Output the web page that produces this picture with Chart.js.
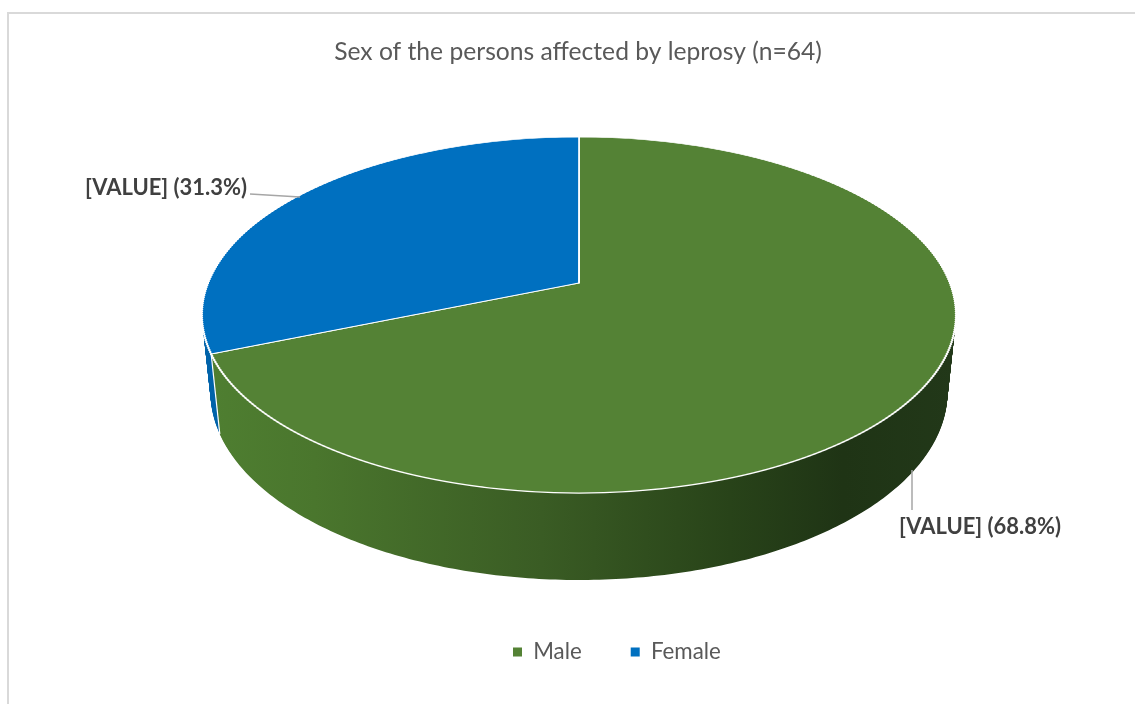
<!DOCTYPE html>
<html>
<head>
<meta charset="utf-8">
<script src="https://cdn.jsdelivr.net/npm/chart.js@4.4.1/dist/chart.umd.min.js"></script>
<style>
html,body{margin:0;padding:0;background:#fff;}
#wrap{position:relative;width:1135px;height:704px;overflow:hidden;background:#fff;}
#frame{position:absolute;left:7px;top:12px;width:1300px;height:900px;border-top:2px solid #d9d9d9;border-left:2px solid #d9d9d9;box-sizing:border-box;}
#c{position:absolute;left:0;top:0;}
</style>
</head>
<body>
<div id="wrap"><div id="frame"></div><canvas id="c" width="1135" height="704"></canvas></div>
<script>
// ---- data ----
const categories = ['Male', 'Female'];
const percentValues = [68.8, 31.3];
const sliceColors = ['#548235', '#0070C0'];
const titleText = 'Sex of the persons affected by leprosy (n=64)';
const labelPrefix = '[VALUE]';

// ---- styling / layout ----
const FAMILY = 'Lato, "Open Sans", "Liberation Sans", sans-serif';
function fitSize(text, weight, target) {
  const c = document.createElement('canvas').getContext('2d');
  c.font = weight + ' 100px ' + FAMILY;
  return 100 * target / c.measureText(text).width;
}
const titleSize = fitSize(titleText, 'normal', 488);
const legendSize = fitSize('Female', 'normal', 70);
const labelSize = fitSize(labelPrefix + ' (31.3%)', 'bold', 162);

// 3D view (perspective camera) fitted to the picture frame of the pie
const VIEW = { cx: 579, cy: 283, topY: 137, botY: 493, frontBottomY: 580, halfWidth: 377 };
const CAM = (() => {
  const r = (VIEW.botY - VIEW.cy) / (VIEW.cy - VIEW.topY);
  const c = (r - 1) / (r + 1);
  const B = (VIEW.cy - VIEW.topY) * (1 + c);
  const A = VIEW.halfWidth * Math.sqrt(1 - c * c);
  const sinP = B / A, cosP = Math.sqrt(1 - sinP * sinP);
  const L = cosP / c, F = A * L;
  const D = VIEW.frontBottomY - VIEW.cy;
  const h = (D * (L - cosP) - F * sinP) / (F * cosP - D * sinP);
  return { c, B, A, sinP, cosP, L, F, h };
})();
function project(X, Y, Z) {
  const d = CAM.L - Y * CAM.cosP - Z * CAM.sinP;
  return [VIEW.cx + CAM.F * X / d, VIEW.cy + CAM.F * (Y * CAM.sinP - Z * CAM.cosP) / d];
}
function vOfScreenY(y) { const s = y - VIEW.cy; return s / (CAM.B + CAM.c * s); }

const sideStops = [
  [[0, '#4f7f31'], [0.15, '#4a762d'], [0.45, '#3a5c24'], [0.7, '#284319'], [0.85, '#1f3415'], [1, '#223819']],
  [[0, '#0063aa'], [0.5, '#004f8c'], [1, '#003866']]
];
const labelLayout = [
  { line: [[912, 470], [912, 510]], text: [980, 527], align: 'center' },
  { line: [[250, 194], [300, 197]], text: [247, 188], align: 'right' }
];

const pie3d = {
  id: 'pie3d',
  beforeDatasetsDraw(chart) {
    const ctx = chart.ctx;
    const arcs = chart.getDatasetMeta(0).data;
    if (!arcs.length) return false;
    const ox = arcs[0].x, oy = arcs[0].y, R = arcs[0].outerRadius;

    // --- side walls (extrusion of each slice, painted from the bottom up) ---
    const grads = sideStops.map(stops => {
      const g = ctx.createLinearGradient(VIEW.cx - VIEW.halfWidth, 0, VIEW.cx + VIEW.halfWidth, 0);
      stops.forEach(s => g.addColorStop(s[0], s[1]));
      return g;
    });
    const N = Math.ceil(VIEW.frontBottomY - VIEW.botY) + 2;
    for (let k = N; k >= 1; k--) {
      const z = -CAM.h * k / N;
      arcs.forEach((arc, i) => {
        const a0 = arc.startAngle, a1 = arc.endAngle;
        const M = Math.max(8, Math.ceil(Math.abs(a1 - a0) * 80));
        ctx.beginPath();
        const p0 = project(0, 0, z);
        ctx.moveTo(p0[0], p0[1]);
        for (let j = 0; j <= M; j++) {
          const t = a0 + (a1 - a0) * j / M;
          const p = project(Math.cos(t), Math.sin(t), z);
          ctx.lineTo(p[0], p[1]);
        }
        ctx.closePath();
        ctx.fillStyle = grads[i];
        ctx.fill();
      });
    }
    // white seams where slices meet on the visible wall
    const sil = 1 / (CAM.L * CAM.cosP);
    ctx.save();
    ctx.strokeStyle = '#ffffff';
    ctx.lineWidth = 1.2;
    arcs.forEach(arc => {
      const t = arc.startAngle;
      if (Math.sin(t) > sil) {
        const p = project(Math.cos(t), Math.sin(t), 0);
        const q = project(Math.cos(t), Math.sin(t), -CAM.h);
        ctx.beginPath(); ctx.moveTo(p[0], p[1]); ctx.lineTo(q[0], q[1]); ctx.stroke();
      }
    });
    ctx.restore();

    // --- top face: the library's arcs, drawn in thin perspective bands ---
    const y0 = Math.floor(VIEW.topY) - 3, y1 = Math.ceil(VIEW.botY) + 3;
    const step = 2;
    for (let ya = y0; ya < y1; ya += step) {
      const yb = ya + step;
      const va = vOfScreenY(ya), vb = vOfScreenY(yb);
      const wm = 1 - CAM.c * (va + vb) / 2;
      ctx.save();
      ctx.beginPath();
      ctx.rect(0, ya, chart.width, yb - ya);
      ctx.clip();
      ctx.translate(VIEW.cx, ya);
      ctx.scale(CAM.A / (R * wm), (yb - ya) / ((vb - va) * R));
      ctx.translate(-ox, -(oy + R * va));
      arcs.forEach(arc => arc.draw(ctx, chart.chartArea));
      ctx.restore();
    }
    return false;
  },
  afterDraw(chart) {
    const ctx = chart.ctx;
    ctx.save();
    percentValues.forEach((v, i) => {
      const L = labelLayout[i];
      ctx.strokeStyle = '#a6a6a6';
      ctx.lineWidth = 1.5;
      ctx.beginPath();
      ctx.moveTo(L.line[0][0], L.line[0][1]);
      ctx.lineTo(L.line[1][0], L.line[1][1]);
      ctx.stroke();
      ctx.fillStyle = '#404040';
      ctx.font = 'bold ' + labelSize + 'px ' + FAMILY;
      ctx.textAlign = L.align;
      ctx.textBaseline = 'middle';
      ctx.fillText(labelPrefix + ' (' + v.toFixed(1) + '%)', L.text[0], L.text[1]);
    });
    ctx.restore();
  }
};

const layoutShift = {
  id: 'layoutShift',
  afterLayout(chart) {
    const lg = chart.legend;
    if (lg && lg.lineWidths) {
      const pad = lg.options.labels.padding;
      const curX = (lg.left + pad + lg.right - lg.lineWidths[0]) / 2;
      const dx = 513 - curX;
      lg.left += dx; lg.right += dx;
      const curY = lg.top + pad + legendSize / 2;
      const dy = 652 - curY;
      lg.top += dy; lg.bottom += dy;
    }
    const tb = chart.titleBlock;
    if (tb) {
      const dx = 578 - (tb.left + tb.right) / 2;
      tb.left += dx; tb.right += dx;
    }
  }
};

new Chart(document.getElementById('c'), {
  type: 'pie',
  data: {
    labels: categories,
    datasets: [{
      data: percentValues,
      backgroundColor: sliceColors,
      borderColor: '#ffffff',
      borderWidth: 1.4
    }]
  },
  options: {
    responsive: false,
    animation: false,
    events: [],
    layout: { padding: { left: 20, right: 20, top: 0, bottom: 0 } },
    plugins: {
      title: {
        display: true,
        text: titleText,
        color: '#595959',
        font: { family: FAMILY, size: titleSize, weight: 'normal' },
        padding: { top: 52 - titleSize * 0.6, bottom: 10 }
      },
      legend: {
        position: 'bottom',
        labels: {
          color: '#595959',
          font: { family: FAMILY, size: legendSize },
          boxWidth: 9,
          boxHeight: 9,
          padding: 49,
          generateLabels(chart) {
            return categories.map((c, i) => ({
              text: c, fillStyle: sliceColors[i], strokeStyle: sliceColors[i],
              lineWidth: 0, hidden: false, index: i, fontColor: '#595959'
            }));
          }
        }
      },
      tooltip: { enabled: false }
    }
  },
  plugins: [pie3d, layoutShift]
});
</script>
</body>
</html>
